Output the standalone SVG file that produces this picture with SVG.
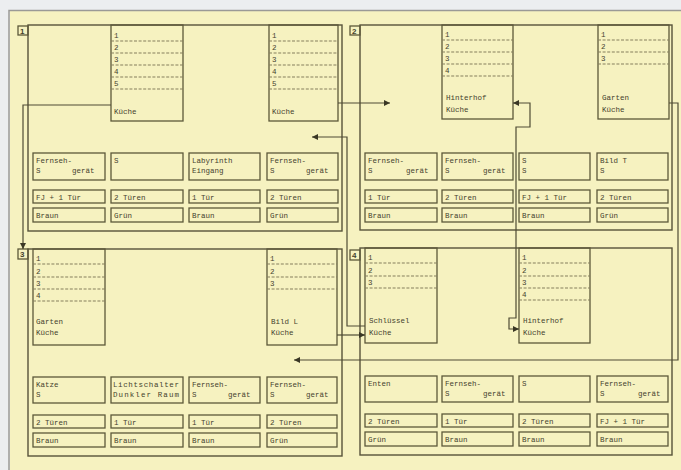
<svg xmlns="http://www.w3.org/2000/svg" width="681" height="470" viewBox="0 0 681 470">
<style>
.bg{fill:#f6f2c0}
.pn{fill:none;stroke:#57533a;stroke-width:1.4}
.bx{fill:none;stroke:#5c5839;stroke-width:1.3}
.ds{stroke:#857f5c;stroke-width:1;stroke-dasharray:3 1.6}
.cn{fill:none;stroke:#4f4b34;stroke-width:1.2}
text{font-family:"Liberation Mono","DejaVu Sans Mono",monospace;font-size:7.5px;fill:#45422e}
.lb{font-family:"Liberation Sans",Arial,sans-serif;font-size:8px;font-weight:bold}
</style>
<defs>
<marker id="ah" viewBox="0 0 6 6" refX="6" refY="3" markerWidth="6" markerHeight="6" markerUnits="userSpaceOnUse" orient="auto-start-reverse"><path d="M0,0L6,3L0,6z" fill="#3a3725"/></marker>
</defs>
<rect width="681" height="470" fill="#eceef0"/>
<rect class="bg" x="10" y="11" width="671" height="459"/>
<path d="M9,470V10.5H681" fill="none" stroke="#9a9a96" stroke-width="1.5"/>

<g id="panel1">
<rect class="pn" x="28" y="25" width="314" height="206"/>
<rect class="bx" x="18" y="26" width="10" height="9"/><text class="lb" x="20" y="34">1</text>
</g>
<g id="panel2">
<rect class="pn" x="360" y="25" width="312" height="205"/>
<rect class="bx" x="350" y="26" width="10" height="9"/><text class="lb" x="352" y="34">2</text>
</g>
<g id="panel3">
<rect class="pn" x="28" y="249" width="314" height="207"/>
<rect class="bx" x="18" y="249" width="10" height="10"/><text class="lb" x="20" y="257">3</text>
</g>
<g id="panel4">
<rect class="pn" x="360" y="248" width="312" height="207"/>
<rect class="bx" x="350" y="250" width="10" height="10"/><text class="lb" x="352" y="258">4</text>
</g>

<g id="room1a">
<rect class="bx" x="111" y="25" width="72" height="96"/>
<line class="ds" x1="111" y1="41" x2="183" y2="41"/><line class="ds" x1="111" y1="53" x2="183" y2="53"/><line class="ds" x1="111" y1="65" x2="183" y2="65"/><line class="ds" x1="111" y1="77" x2="183" y2="77"/><line class="ds" x1="111" y1="89" x2="183" y2="89"/>
<text x="114" y="38">1</text><text x="114" y="50">2</text><text x="114" y="62">3</text><text x="114" y="74">4</text><text x="114" y="86">5</text>
<text x="114" y="114">Küche</text>
</g>
<g id="room1b">
<rect class="bx" x="269" y="25" width="69" height="96"/>
<line class="ds" x1="269" y1="41" x2="338" y2="41"/><line class="ds" x1="269" y1="53" x2="338" y2="53"/><line class="ds" x1="269" y1="65" x2="338" y2="65"/><line class="ds" x1="269" y1="77" x2="338" y2="77"/><line class="ds" x1="269" y1="89" x2="338" y2="89"/>
<text x="272" y="38">1</text><text x="272" y="50">2</text><text x="272" y="62">3</text><text x="272" y="74">4</text><text x="272" y="86">5</text>
<text x="272" y="114">Küche</text>
</g>
<g id="room2a">
<rect class="bx" x="442" y="25" width="71" height="94"/>
<line class="ds" x1="442" y1="40" x2="513" y2="40"/><line class="ds" x1="442" y1="52" x2="513" y2="52"/><line class="ds" x1="442" y1="64" x2="513" y2="64"/><line class="ds" x1="442" y1="76" x2="513" y2="76"/>
<text x="445" y="37">1</text><text x="445" y="49">2</text><text x="445" y="61">3</text><text x="445" y="73">4</text>
<text x="446" y="100">Hinterhof</text><text x="446" y="112">Küche</text>
</g>
<g id="room2b">
<rect class="bx" x="598" y="25" width="71" height="94"/>
<line class="ds" x1="598" y1="40" x2="669" y2="40"/><line class="ds" x1="598" y1="52" x2="669" y2="52"/><line class="ds" x1="598" y1="64" x2="669" y2="64"/>
<text x="601" y="37">1</text><text x="601" y="49">2</text><text x="601" y="61">3</text>
<text x="602" y="100">Garten</text><text x="602" y="112">Küche</text>
</g>
<g id="room3a">
<rect class="bx" x="33" y="249" width="72" height="96"/>
<line class="ds" x1="33" y1="264" x2="105" y2="264"/><line class="ds" x1="33" y1="277" x2="105" y2="277"/><line class="ds" x1="33" y1="289" x2="105" y2="289"/><line class="ds" x1="33" y1="301" x2="105" y2="301"/>
<text x="36" y="261">1</text><text x="36" y="274">2</text><text x="36" y="286">3</text><text x="36" y="298">4</text>
<text x="36" y="324">Garten</text><text x="36" y="335">Küche</text>
</g>
<g id="room3b">
<rect class="bx" x="267" y="249" width="70" height="96"/>
<line class="ds" x1="267" y1="264" x2="337" y2="264"/><line class="ds" x1="267" y1="277" x2="337" y2="277"/><line class="ds" x1="267" y1="289" x2="337" y2="289"/>
<text x="270" y="261">1</text><text x="270" y="274">2</text><text x="270" y="286">3</text>
<text x="271" y="324">Bild L</text><text x="271" y="335">Küche</text>
</g>
<g id="room4a">
<rect class="bx" x="365" y="248" width="72" height="95"/>
<line class="ds" x1="365" y1="263" x2="437" y2="263"/><line class="ds" x1="365" y1="276" x2="437" y2="276"/><line class="ds" x1="365" y1="288" x2="437" y2="288"/>
<text x="368" y="260">1</text><text x="368" y="273">2</text><text x="368" y="285">3</text>
<text x="369" y="323">Schlüssel</text><text x="369" y="335">Küche</text>
</g>
<g id="room4b">
<rect class="bx" x="519" y="248" width="71" height="95"/>
<line class="ds" x1="519" y1="263" x2="590" y2="263"/><line class="ds" x1="519" y1="276" x2="590" y2="276"/><line class="ds" x1="519" y1="288" x2="590" y2="288"/><line class="ds" x1="519" y1="300" x2="590" y2="300"/>
<text x="522" y="260">1</text><text x="522" y="273">2</text><text x="522" y="285">3</text><text x="522" y="297">4</text>
<text x="523" y="323">Hinterhof</text><text x="523" y="335">Küche</text>
</g>

<g id="p1c1"><rect class="bx" x="33" y="153" width="72" height="27"/><text x="36" y="162.5">Fernseh-</text><text x="36" y="172.5">S</text><text x="72" y="172.5">gerät</text></g>
<g id="p1c2"><rect class="bx" x="111" y="153" width="72" height="27"/><text x="114" y="162.5">S</text></g>
<g id="p1c3"><rect class="bx" x="189" y="153" width="71" height="27"/><text x="192" y="162.5">Labyrinth</text><text x="192" y="172.5">Eingang</text></g>
<g id="p1c4"><rect class="bx" x="267" y="153" width="71" height="27"/><text x="270" y="162.5">Fernseh-</text><text x="270" y="172.5">S</text><text x="306" y="172.5">gerät</text></g>
<g id="p1d1"><rect class="bx" x="33" y="190" width="72" height="13"/><text x="36" y="199.5">FJ + 1 Tür</text></g>
<g id="p1d2"><rect class="bx" x="111" y="190" width="72" height="13"/><text x="114" y="199.5">2 Türen</text></g>
<g id="p1d3"><rect class="bx" x="189" y="190" width="71" height="13"/><text x="192" y="199.5">1 Tür</text></g>
<g id="p1d4"><rect class="bx" x="267" y="190" width="71" height="13"/><text x="270" y="199.5">2 Türen</text></g>
<g id="p1e1"><rect class="bx" x="33" y="208" width="72" height="14"/><text x="36" y="218">Braun</text></g>
<g id="p1e2"><rect class="bx" x="111" y="208" width="72" height="14"/><text x="114" y="218">Grün</text></g>
<g id="p1e3"><rect class="bx" x="189" y="208" width="71" height="14"/><text x="192" y="218">Braun</text></g>
<g id="p1e4"><rect class="bx" x="267" y="208" width="71" height="14"/><text x="270" y="218">Grün</text></g>

<g id="p2c1"><rect class="bx" x="365" y="153" width="72" height="27"/><text x="368" y="162.5">Fernseh-</text><text x="368" y="172.5">S</text><text x="406" y="172.5">gerät</text></g>
<g id="p2c2"><rect class="bx" x="442" y="153" width="71" height="27"/><text x="445" y="162.5">Fernseh-</text><text x="445" y="172.5">S</text><text x="483" y="172.5">gerät</text></g>
<g id="p2c3"><rect class="bx" x="519" y="153" width="71" height="27"/><text x="522" y="162.5">S</text><text x="522" y="172.5">S</text></g>
<g id="p2c4"><rect class="bx" x="597" y="153" width="71" height="27"/><text x="600" y="162.5">Bild T</text><text x="600" y="172.5">S</text></g>
<g id="p2d1"><rect class="bx" x="365" y="190" width="72" height="13"/><text x="368" y="199.5">1 Tür</text></g>
<g id="p2d2"><rect class="bx" x="442" y="190" width="71" height="13"/><text x="445" y="199.5">2 Türen</text></g>
<g id="p2d3"><rect class="bx" x="519" y="190" width="71" height="13"/><text x="522" y="199.5">FJ + 1 Tür</text></g>
<g id="p2d4"><rect class="bx" x="597" y="190" width="71" height="13"/><text x="600" y="199.5">2 Türen</text></g>
<g id="p2e1"><rect class="bx" x="365" y="208" width="72" height="14"/><text x="368" y="218">Braun</text></g>
<g id="p2e2"><rect class="bx" x="442" y="208" width="71" height="14"/><text x="445" y="218">Braun</text></g>
<g id="p2e3"><rect class="bx" x="519" y="208" width="71" height="14"/><text x="522" y="218">Braun</text></g>
<g id="p2e4"><rect class="bx" x="597" y="208" width="71" height="14"/><text x="600" y="218">Grün</text></g>

<g id="p3c1"><rect class="bx" x="33" y="377" width="72" height="26"/><text x="36" y="386.5">Katze</text><text x="36" y="396.5">S</text></g>
<g id="p3c2"><rect class="bx" x="111" y="377" width="72" height="26"/><text x="113" y="386.5" textLength="66">Lichtschalter</text><text x="113" y="396.5" textLength="66">Dunkler Raum</text></g>
<g id="p3c3"><rect class="bx" x="189" y="377" width="71" height="26"/><text x="192" y="386.5">Fernseh-</text><text x="192" y="396.5">S</text><text x="228" y="396.5">gerät</text></g>
<g id="p3c4"><rect class="bx" x="267" y="377" width="70" height="26"/><text x="270" y="386.5">Fernseh-</text><text x="270" y="396.5">S</text><text x="306" y="396.5">gerät</text></g>
<g id="p3d1"><rect class="bx" x="33" y="415" width="72" height="13"/><text x="36" y="424.5">2 Türen</text></g>
<g id="p3d2"><rect class="bx" x="111" y="415" width="72" height="13"/><text x="114" y="424.5">1 Tür</text></g>
<g id="p3d3"><rect class="bx" x="189" y="415" width="71" height="13"/><text x="192" y="424.5">1 Tür</text></g>
<g id="p3d4"><rect class="bx" x="267" y="415" width="70" height="13"/><text x="270" y="424.5">2 Türen</text></g>
<g id="p3e1"><rect class="bx" x="33" y="433" width="72" height="14"/><text x="36" y="443">Braun</text></g>
<g id="p3e2"><rect class="bx" x="111" y="433" width="72" height="14"/><text x="114" y="443">Braun</text></g>
<g id="p3e3"><rect class="bx" x="189" y="433" width="71" height="14"/><text x="192" y="443">Braun</text></g>
<g id="p3e4"><rect class="bx" x="267" y="433" width="70" height="14"/><text x="270" y="443">Grün</text></g>

<g id="p4c1"><rect class="bx" x="365" y="376" width="72" height="26"/><text x="368" y="385.5">Enten</text></g>
<g id="p4c2"><rect class="bx" x="442" y="376" width="71" height="26"/><text x="445" y="385.5">Fernseh-</text><text x="445" y="395.5">S</text><text x="483" y="395.5">gerät</text></g>
<g id="p4c3"><rect class="bx" x="519" y="376" width="71" height="26"/><text x="522" y="385.5">S</text></g>
<g id="p4c4"><rect class="bx" x="597" y="376" width="71" height="26"/><text x="600" y="385.5">Fernseh-</text><text x="600" y="395.5">S</text><text x="638" y="395.5">gerät</text></g>
<g id="p4d1"><rect class="bx" x="365" y="414" width="72" height="13"/><text x="368" y="423.5">2 Türen</text></g>
<g id="p4d2"><rect class="bx" x="442" y="414" width="71" height="13"/><text x="445" y="423.5">1 Tür</text></g>
<g id="p4d3"><rect class="bx" x="519" y="414" width="71" height="13"/><text x="522" y="423.5">2 Türen</text></g>
<g id="p4d4"><rect class="bx" x="597" y="414" width="71" height="13"/><text x="600" y="423.5">FJ + 1 Tür</text></g>
<g id="p4e1"><rect class="bx" x="365" y="432" width="72" height="14"/><text x="368" y="442">Grün</text></g>
<g id="p4e2"><rect class="bx" x="442" y="432" width="71" height="14"/><text x="445" y="442">Braun</text></g>
<g id="p4e3"><rect class="bx" x="519" y="432" width="71" height="14"/><text x="522" y="442">Braun</text></g>
<g id="p4e4"><rect class="bx" x="597" y="432" width="71" height="14"/><text x="600" y="442">Braun</text></g>

<g id="connectors">
<path class="cn" d="M111,105H23V249" marker-end="url(#ah)"/>
<path class="cn" d="M338,103H390" marker-end="url(#ah)"/>
<path class="cn" d="M365,326H347V137H312" marker-end="url(#ah)"/>
<path class="cn" d="M337,335H365" marker-end="url(#ah)"/>
<path class="cn" d="M669,103H678V360H294" marker-end="url(#ah)"/>
<path class="cn" d="M513,103H530V127H516V318H509V329H519" marker-start="url(#ah)" marker-end="url(#ah)"/>
</g>
</svg>
